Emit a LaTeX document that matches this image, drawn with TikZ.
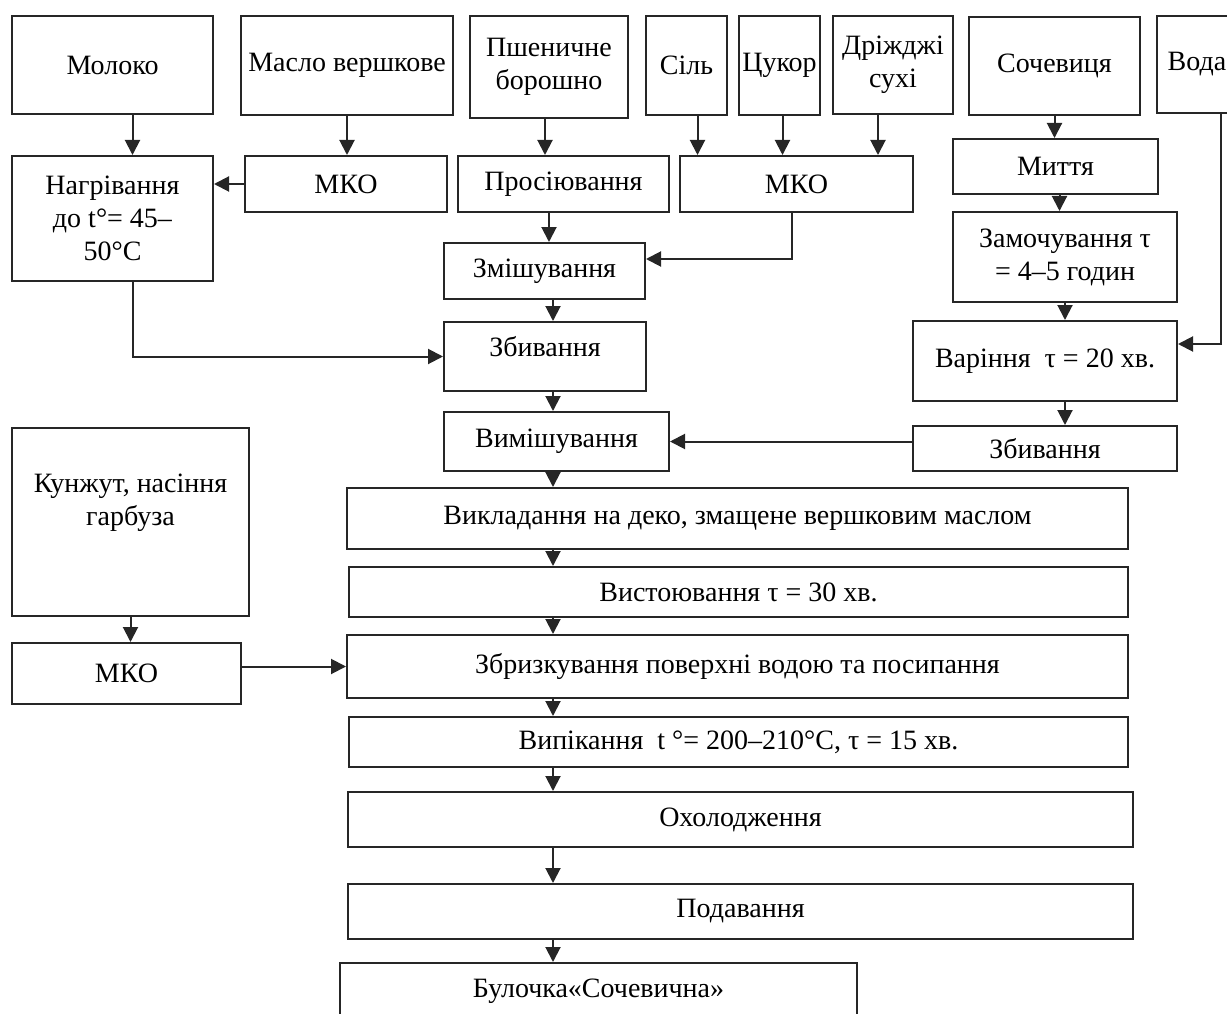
\documentclass[tikz,border=0pt]{standalone}
\usepackage{fontspec}
\setmainfont{Liberation Serif}
\usepackage{tikz}
\usetikzlibrary{arrows.meta, positioning, calc}
\tikzset{
  stepbox/.style={
    draw=black!85, line width=2pt, align=center, anchor=north west, inner sep=2pt,
    font=\fontsize{28}{33}\selectfont
  },
  flow/.style={-{Triangle[length=15pt, width=15pt]}, line width=2pt, black!85},
}
\begin{document}
\begin{tikzpicture}[x=1pt, y=-1pt]
  \useasboundingbox (0,0) rectangle (1227,1014);
  % top row: raw materials
  \node[stepbox, minimum width=201pt, minimum height=98pt] (milk) at (11,15) {Молоко};
  \node[stepbox, minimum width=212pt, minimum height=99pt] (butter) at (240,15) {Масло вершкове};
  \node[stepbox, minimum width=158pt, minimum height=102pt] (flour) at (469,15) {Пшеничне\\борошно};
  \node[stepbox, minimum width=81pt, minimum height=99pt] (salt) at (645,15) {Сіль};
  \node[stepbox, minimum width=81pt, minimum height=99pt] (sugar) at (738,15) {Цукор};
  \node[stepbox, minimum width=120pt, minimum height=98pt] (yeast) at (832,15) {Дріжджі\\сухі};
  \node[stepbox, minimum width=171pt, minimum height=98pt] (lentil) at (968,16) {Сочевиця};
  \node[stepbox, minimum width=80pt, minimum height=97pt] (water) at (1156,15) {Вода};
  % preparation
  \node[stepbox, minimum width=201pt, minimum height=125pt] (heat) at (11,155) {Нагрівання\\до t°= 45–\\50°C};
  \node[stepbox, minimum width=202pt, minimum height=56pt] (mko1) at (244,155) {МКО};
  \node[stepbox, minimum width=211pt, minimum height=56pt] (sift) at (457,155) {Просіювання};
  \node[stepbox, minimum width=233pt, minimum height=56pt] (mko2) at (679,155) {МКО};
  \node[stepbox, minimum width=205pt, minimum height=55pt] (wash) at (952,138) {Миття};
  \node[stepbox, minimum width=224pt, minimum height=90pt] (soak) at (952,211) {Замочування τ\\= 4–5 годин};
  \node[stepbox, minimum width=201pt, minimum height=56pt] (mix) at (443,242) {Змішування};
  \node[stepbox, minimum width=264pt, minimum height=80pt] (boil) at (912,320) {Варіння~ τ = 20 хв.};
  \node[stepbox, minimum width=202pt, minimum height=69pt, text depth=20pt] (whip) at (443,321) {Збивання};
  \node[stepbox, minimum width=264pt, minimum height=45pt] (whipR) at (912,425) {Збивання};
  \node[stepbox, minimum width=225pt, minimum height=59pt] (knead) at (443,411) {Вимішування};
  \node[stepbox, minimum width=237pt, minimum height=188pt, text depth=45pt] (seeds) at (11,427) {Кунжут, насіння\\гарбуза};
  \node[stepbox, minimum width=229pt, minimum height=61pt] (mko3) at (11,642) {МКО};
  % main line
  \node[stepbox, minimum width=781pt, minimum height=61pt] (lay) at (346,487) {Викладання на деко, змащене вершковим маслом};
  \node[stepbox, minimum width=779pt, minimum height=50pt] (proof) at (348,566) {Вистоювання τ = 30 хв.};
  \node[stepbox, minimum width=781pt, minimum height=63pt] (spray) at (346,634) {Збризкування поверхні водою та посипання};
  \node[stepbox, minimum width=779pt, minimum height=50pt] (bake) at (348,716) {Випікання~ t °= 200–210°C, τ = 15 хв.};
  \node[stepbox, minimum width=785pt, minimum height=55pt] (cool) at (347,791) {Охолодження};
  \node[stepbox, minimum width=785pt, minimum height=55pt] (serve) at (347,883) {Подавання};
  \node[stepbox, minimum width=517pt, minimum height=56pt] (bun) at (339,962) {Булочка«Сочевична»};
  \coordinate (axis) at (553,0);
  % connectors
  \draw[flow] ([xshift=20pt]milk.south) -- ([xshift=20pt]milk.south |- heat.north);
  \draw[flow] (butter.south) -- (butter.south |- mko1.north);
  \draw[flow] (mko1.west) -- (mko1.west -| heat.east);
  \draw[flow] ([xshift=-4pt]flour.south) -- ([xshift=-4pt]flour.south |- sift.north);
  \draw[flow] ([xshift=11pt]salt.south) -- ([xshift=11pt]salt.south |- mko2.north);
  \draw[flow] ([xshift=3pt]sugar.south) -- ([xshift=3pt]sugar.south |- mko2.north);
  \draw[flow] ([xshift=-15pt]yeast.south) -- ([xshift=-15pt]yeast.south |- mko2.north);
  \draw[flow] (sift.south -| flour.south) -- (mix.north -| flour.south);
  \draw[flow] ([xshift=-5pt]mko2.south) |- ([yshift=12pt]mix.east);
  \draw[flow] ([xshift=20pt]heat.south) |- (whip.west);
  \draw[flow] (lentil.south) -- (lentil.south |- wash.north);
  \draw[flow] ([xshift=4pt]wash.south) -- ([xshift=4pt]wash.south |- soak.north);
  \draw[flow] (soak.south) -- (soak.south |- boil.north);
  \draw[flow] ([xshift=24pt]water.south) |- ([yshift=17pt]boil.east);
  \draw[flow] (boil.south -| soak.south) -- (whipR.north -| soak.south);
  \draw[flow] (knead.east -| whipR.west) -- (knead.east);
  \draw[flow] (mix.south -| axis) -- (whip.north -| axis);
  \draw[flow] (whip.south -| axis) -- (knead.north -| axis);
  \draw[flow] (knead.south -| axis) -- (lay.north -| axis);
  \draw[flow] (lay.south -| axis) -- (proof.north -| axis);
  \draw[flow] (proof.south -| axis) -- (spray.north -| axis);
  \draw[flow] (spray.south -| axis) -- (bake.north -| axis);
  \draw[flow] (bake.south -| axis) -- (cool.north -| axis);
  \draw[flow] (cool.south -| axis) -- (serve.north -| axis);
  \draw[flow] (serve.south -| axis) -- (bun.north -| axis);
  \draw[flow] (seeds.south) -- (seeds.south |- mko3.north);
  \draw[flow] (spray.west -| mko3.east) -- (spray.west);
\end{tikzpicture}
\end{document}
